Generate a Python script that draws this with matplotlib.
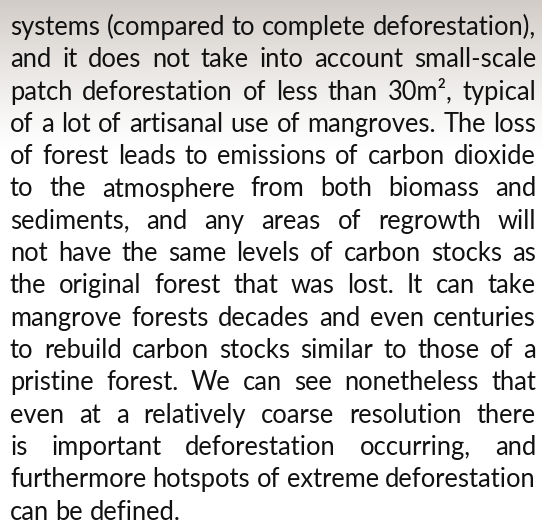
"""Justified paragraph of body text on a faded beige header band."""

import numpy as np
import matplotlib
matplotlib.use("Agg")
import matplotlib.pyplot as plt

# ---------------------------------------------------------------------------
lines = [
    "systems (compared to complete deforestation),",
    "and it does not take into account small-scale",
    "patch deforestation of less than 30m\u00b2, typical",
    "of a lot of artisanal use of mangroves. The loss",
    "of forest leads to emissions of carbon dioxide",
    "to the atmosphere from both biomass and",
    "sediments, and any areas of regrowth will",
    "not have the same levels of carbon stocks as",
    "the original forest that was lost. It can take",
    "mangrove forests decades and even centuries",
    "to rebuild carbon stocks similar to those of a",
    "pristine forest. We can see nonetheless that",
    "even at a relatively coarse resolution there",
    "is important deforestation occurring, and",
    "furthermore hotspots of extreme deforestation",
    "can be defined.",
]

W, H = 542, 528
LEFT, RIGHT = 10, 536
BASE0, LEAD = 35, 32.3
FAMILY = ["Lato", "DejaVu Sans"]
INK = "#111111"

fig = plt.figure(figsize=(W / 100, H / 100), dpi=100)
ax = fig.add_axes([0, 0, 1, 1])
ax.set_xlim(0, W); ax.set_ylim(H, 0); ax.axis("off")

# background: greyish beige at the top fading to white
y = np.arange(H)
a = np.clip(1 - y / 150.0, 0, 1) ** 1.2
top = np.array([210, 204, 199]) / 255.0
img = top[None, :] * a[:, None] + (1 - a[:, None])
ax.imshow(img[:, None, :], extent=[0, W, H, 0], aspect="auto", zorder=0)

renderer = fig.canvas.get_renderer()


def _width(s, size):
    t = ax.text(0, 0, s, fontsize=size, family=FAMILY)
    w = t.get_window_extent(renderer).width
    t.remove()
    return w


def _natural(line, size):
    words = line.split()
    sp = _width("x x", size) - _width("xx", size)
    return sum(_width(w, size) for w in words) + sp * (len(words) - 1)


# fit the font size so the widest justified line fills the column
size = 16.0
for _ in range(3):
    widest = max(_natural(l, size) for l in lines[:-1])
    size *= (RIGHT - LEFT) / widest

sp = _width("x x", size) - _width("xx", size)
for i, line in enumerate(lines):
    words = line.split()
    ws = [_width(w, size) for w in words]
    base = BASE0 + i * LEAD
    if i < len(lines) - 1 and len(words) > 1:
        gap = (RIGHT - LEFT - sum(ws)) / (len(words) - 1)
    else:
        gap = sp
    x = LEFT
    for w, wd in zip(words, ws):
        ax.text(x, base, w, fontsize=size, family=FAMILY, color=INK,
                va="baseline", ha="left", zorder=2)
        x += wd + gap

fig.savefig("out.png", dpi=100)
plt.close(fig)
